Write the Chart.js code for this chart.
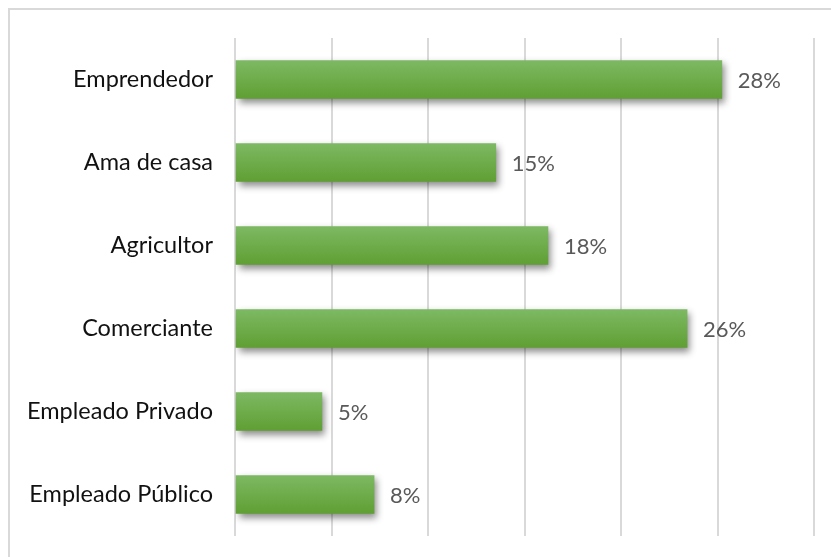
<!DOCTYPE html>
<html>
<head>
<meta charset="utf-8">
<script src="https://cdn.jsdelivr.net/npm/chart.js@4"></script>
<style>
    body { margin: 0; background: #ffffff; }
    #marco {
        position: absolute;
        left: 8px;
        top: 8px;
        width: 823px;
        height: 549px;
        border-top: 2px solid #d9d9d9;
        border-left: 2px solid #d9d9d9;
    }
    #lienzo { position: absolute; left: 0; top: 0; }
</style>
</head>
<body>
<div id="marco"></div>
<canvas id="lienzo" width="831" height="557"></canvas>
<script>
var ocupaciones = ["Emprendedor", "Ama de casa", "Agricultor", "Comerciante", "Empleado Privado", "Empleado Público"];
var porcentajes = [28, 15, 18, 26, 5, 8];
var escalaMax = 33.3;
var lineasGuia = 7;

// degradado vertical en cada barra y sombra suave debajo
var sombraBarras = {
    id: "sombraBarras",
    beforeDatasetsDraw: function (chart) {
        var ctx = chart.ctx;
        var meta = chart.getDatasetMeta(0);
        meta.data.forEach(function (barra) {
            var g = ctx.createLinearGradient(0, barra.y - barra.height / 2, 0, barra.y + barra.height / 2);
            g.addColorStop(0, "#7db963");
            g.addColorStop(1, "#5f9f33");
            // las opciones vienen compartidas: copia propia por barra
            barra.options = Object.assign({}, barra.options, { backgroundColor: g });
        });
        ctx.save();
        ctx.shadowColor = "rgba(0, 0, 0, 0.45)";
        ctx.shadowBlur = 7;
        ctx.shadowOffsetX = 3;
        ctx.shadowOffsetY = 4;
    },
    afterDatasetsDraw: function (chart) {
        chart.ctx.restore();
    }
};

// porcentaje a la derecha de cada barra
var etiquetas = {
    id: "etiquetas",
    afterDraw: function (chart) {
        var ctx = chart.ctx;
        var meta = chart.getDatasetMeta(0);
        ctx.save();
        ctx.font = "22px Lato";
        ctx.fillStyle = "#595959";
        ctx.textAlign = "left";
        ctx.textBaseline = "middle";
        for (var i = 0; i < meta.data.length; i++) {
            var barra = meta.data[i];
            ctx.fillText(porcentajes[i] + "%", barra.x + 16, barra.y + 1);
        }
        ctx.restore();
    }
};

new Chart(document.getElementById("lienzo"), {
    type: "bar",
    data: {
        labels: ocupaciones,
        datasets: [{
            data: porcentajes,
            backgroundColor: "#6aab45",
            borderWidth: 0,
            barThickness: 38
        }]
    },
    options: {
        indexAxis: "y",
        responsive: false,
        animation: false,
        layout: { padding: { top: 38, right: 17, bottom: 21, left: 0 } },
        plugins: {
            legend: { display: false },
            tooltip: { enabled: false }
        },
        scales: {
            x: {
                min: 0,
                max: escalaMax,
                ticks: { display: false, count: lineasGuia },
                grid: { color: "#d9d9d9", lineWidth: 2, drawTicks: false },
                border: { display: false },
                afterFit: function (escala) { escala.height = 0; }
            },
            y: {
                grid: { display: false, drawTicks: false },
                border: { display: false },
                ticks: {
                    color: "#111111",
                    font: { family: "Lato", size: 23.5 },
                    padding: 22
                },
                afterFit: function (escala) {
                    escala.width = 235;
                    // el relleno de las etiquetas no debe encoger el área
                    escala.paddingTop = 0;
                    escala.paddingBottom = 0;
                }
            }
        }
    },
    plugins: [sombraBarras, etiquetas]
});
</script>
</body>
</html>
